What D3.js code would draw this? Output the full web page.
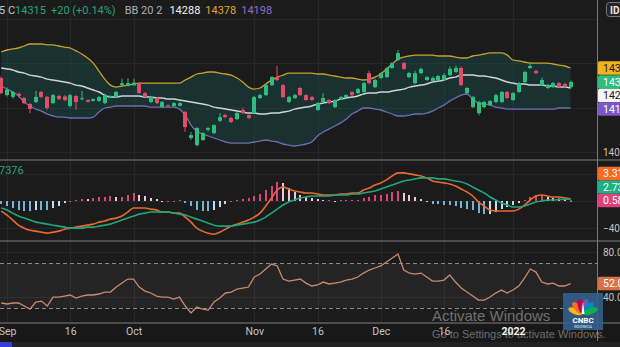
<!DOCTYPE html>
<html><head><meta charset="utf-8">
<script src="https://cdnjs.cloudflare.com/ajax/libs/d3/7.8.5/d3.min.js"></script>
<style>
html,body{margin:0;padding:0;background:#1b1b1b;overflow:hidden}
svg{display:block;font-family:Roboto,"Liberation Sans",Arial,sans-serif}
</style></head><body>
<svg id="chart" width="620" height="347"></svg>
<script>
// USD/IDR daily candles, late Aug 2021 to mid Jan 2022
const open  = [14333,14256,14248,14262,14243,14216,14225,14270,14248,14220,14252,14250,14207,14252,14240,14234,14230,14230,14220,14248,14248,14302,14298,14300,14310,14265,14225,14243,14202,14210,14207,14208,14180,14063,14031,14054,14100,14085,14140,14166,14153,14148,14189,14166,14175,14243,14256,14301,14337,14301,14225,14243,14288,14256,14247,14189,14225,14234,14202,14238,14247,14270,14265,14270,14355,14292,14333,14337,14378,14414,14400,14337,14310,14355,14324,14320,14324,14324,14346,14360,14378,14265,14202,14175,14202,14211,14225,14225,14270,14234,14270,14315,14378,14365,14301,14288,14292,14310,14306,14292];
const high  = [14340,14290,14275,14268,14248,14220,14275,14275,14252,14262,14258,14256,14262,14256,14275,14238,14242,14252,14262,14256,14275,14330,14332,14330,14315,14270,14252,14248,14230,14214,14225,14226,14185,14090,14112,14090,14112,14125,14175,14172,14158,14180,14200,14170,14252,14262,14306,14342,14388,14306,14252,14262,14292,14260,14252,14225,14265,14238,14238,14252,14260,14274,14288,14315,14365,14330,14360,14382,14405,14459,14405,14360,14365,14380,14342,14340,14347,14355,14385,14390,14385,14292,14252,14230,14230,14234,14262,14275,14275,14270,14315,14365,14405,14369,14335,14306,14315,14315,14312,14322];
const low   = [14260,14250,14240,14245,14215,14175,14220,14243,14190,14215,14234,14228,14200,14190,14232,14222,14226,14226,14215,14244,14243,14298,14295,14298,14262,14245,14220,14215,14198,14202,14202,14204,14090,14055,14025,14050,14092,14080,14135,14152,14130,14144,14170,14148,14170,14238,14252,14297,14318,14243,14220,14238,14252,14230,14230,14185,14220,14216,14198,14234,14243,14252,14261,14266,14305,14288,14328,14333,14374,14410,14370,14333,14305,14350,14320,14316,14320,14320,14342,14356,14297,14261,14198,14165,14198,14207,14220,14220,14238,14230,14265,14310,14374,14350,14297,14284,14288,14288,14288,14286];
const close = [14265,14280,14270,14252,14220,14194,14248,14248,14198,14256,14238,14234,14256,14225,14242,14226,14238,14247,14256,14250,14270,14310,14310,14312,14265,14248,14248,14220,14225,14207,14220,14220,14112,14076,14108,14085,14108,14121,14157,14157,14135,14175,14175,14153,14247,14256,14301,14337,14324,14247,14248,14256,14256,14234,14234,14220,14243,14220,14234,14247,14256,14256,14283,14310,14310,14324,14355,14378,14400,14445,14374,14355,14355,14374,14337,14333,14342,14346,14374,14378,14301,14288,14247,14225,14225,14229,14256,14270,14243,14265,14310,14360,14387,14355,14324,14301,14310,14292,14295,14315];

// Bollinger Bands (20, 2)
const bbUpper  = [14450,14459,14464,14468,14477,14486,14486,14486,14482,14482,14477,14472,14468,14455,14441,14423,14400,14364,14328,14301,14292,14297,14301,14306,14310,14310,14310,14310,14310,14310,14310,14310,14324,14337,14351,14355,14360,14360,14355,14351,14346,14333,14315,14292,14283,14288,14306,14324,14337,14346,14355,14355,14355,14355,14355,14351,14351,14346,14342,14337,14333,14333,14328,14324,14328,14337,14351,14373,14396,14418,14427,14432,14436,14436,14436,14436,14432,14432,14432,14427,14423,14423,14432,14436,14441,14446,14446,14446,14436,14414,14410,14405,14400,14400,14400,14400,14396,14391,14387,14378];
const bbMiddle = [14378,14374,14369,14360,14355,14346,14342,14337,14328,14324,14319,14315,14310,14301,14297,14288,14279,14270,14256,14247,14247,14252,14252,14252,14252,14247,14247,14243,14243,14238,14238,14234,14229,14225,14220,14216,14211,14202,14198,14193,14189,14184,14180,14175,14175,14171,14171,14175,14175,14180,14184,14193,14198,14202,14207,14216,14220,14225,14229,14238,14243,14247,14252,14261,14265,14265,14270,14270,14274,14279,14283,14292,14297,14301,14306,14315,14319,14324,14333,14337,14346,14346,14346,14342,14342,14337,14333,14324,14315,14310,14306,14306,14301,14301,14301,14297,14297,14292,14292,14288];
const bbLower  = [14297,14283,14270,14252,14225,14207,14193,14184,14171,14162,14157,14157,14153,14153,14153,14153,14157,14180,14198,14202,14207,14207,14207,14207,14207,14207,14202,14202,14202,14202,14202,14193,14166,14121,14094,14081,14072,14063,14054,14045,14040,14040,14040,14040,14045,14049,14054,14049,14045,14036,14031,14027,14031,14036,14045,14072,14090,14103,14117,14130,14148,14171,14184,14198,14198,14193,14189,14180,14171,14162,14162,14166,14171,14171,14175,14184,14198,14211,14229,14243,14256,14261,14238,14220,14216,14211,14202,14198,14193,14193,14193,14193,14193,14193,14193,14193,14193,14198,14198,14198];

// MACD (12, 26, 9)
const macdLine   = [-14.8,-20.7,-28.1,-35.6,-40.0,-43.0,-44.4,-45.9,-47.4,-45.9,-44.4,-41.5,-40.0,-38.5,-37.0,-35.6,-34.1,-31.1,-29.6,-26.7,-25.2,-22.2,-16.3,-10.4,-10.4,-10.4,-11.9,-13.3,-16.3,-16.3,-17.8,-17.8,-23.7,-31.1,-40.0,-44.4,-47.4,-48.9,-45.9,-41.5,-37.0,-34.1,-31.1,-28.1,-23.7,-17.8,-7.4,4.4,16.3,20.7,17.8,14.8,13.3,11.9,11.9,10.4,8.9,8.9,8.9,10.4,10.4,11.9,11.9,16.3,19.3,23.7,26.7,31.1,37.0,41.5,41.5,40.0,38.5,37.0,34.1,29.6,28.1,26.7,25.2,22.2,17.8,13.3,7.4,-1.5,-7.4,-13.3,-14.8,-14.8,-14.8,-14.8,-11.9,-5.9,1.5,7.4,8.9,7.4,5.9,5.9,4.4,3.31];
const signalLine = [-10.4,-13.3,-17.8,-22.2,-25.2,-28.1,-31.1,-32.6,-34.1,-35.6,-37.0,-38.5,-40.0,-40.0,-40.0,-38.5,-38.5,-37.0,-35.6,-34.1,-31.1,-28.1,-25.2,-22.2,-19.3,-17.8,-16.3,-16.3,-16.3,-16.3,-17.8,-19.3,-20.7,-23.7,-26.7,-29.6,-32.6,-35.6,-37.0,-37.0,-37.0,-35.6,-34.1,-32.6,-31.1,-28.1,-23.7,-17.8,-11.9,-5.9,-1.5,1.5,4.4,5.9,7.4,7.4,7.4,7.4,8.9,8.9,8.9,10.4,10.4,11.9,13.3,14.8,17.8,20.7,23.7,26.7,29.6,31.1,32.6,34.1,34.1,34.1,32.6,32.6,31.1,29.6,28.1,25.2,20.7,16.3,11.9,5.9,1.5,-3.0,-5.9,-8.9,-8.9,-7.4,-4.4,-1.5,0.0,1.5,1.5,2.2,2.5,2.73];

// RSI (14)
const rsi = [34.7,33.8,34.7,34.7,32.0,29.3,35.6,36.4,32.0,40.0,40.0,40.9,41.8,39.1,40.9,41.8,41.8,42.7,44.4,44.4,48.9,52.4,56.0,56.0,48.9,45.3,43.6,40.9,40.0,40.0,38.2,40.0,32.0,25.8,31.1,29.3,28.4,35.6,39.1,43.6,44.4,47.1,48.0,48.9,57.8,60.4,64.9,69.3,67.6,56.0,54.2,55.1,56.0,52.4,49.8,50.7,53.3,51.6,52.4,53.3,55.1,56.0,57.8,61.3,64.0,65.8,67.6,71.1,74.7,78.2,64.0,61.3,60.4,61.3,57.8,54.2,54.2,55.1,59.6,53.3,48.0,44.4,40.9,37.3,37.3,40.0,43.6,46.2,43.6,46.2,49.8,56.9,64.9,62.2,53.3,51.6,52.4,49.8,49.8,52.0];

// time axis: bar index of each labelled date
const tickIndex  = [1, 12, 23, 44, 55, 66, 77, 89];
const tickLabels = ["Sep", "16", "Oct", "Nov", "16", "Dec", "16", "2022"];
// price-scale grid levels and the levels that carry a visible label
const priceGrid  = [14000, 14200, 14400, 14600];
const priceLabel = [14000];
const macdGrid   = [-40, 0, 40];
const macdLabel  = [-40];
const rsiGrid    = [80, 40];
const rsiLabel   = [80, 40];
const rsiBands   = [70, 30];

const UP = "#2ebd7f", DOWN = "#e04d68";
const C_UPPER = "#c9a227", C_MID = "#cdd4da", C_LOWER = "#6d6db3";
const C_MACD = "#ea6a2e", C_SIGNAL = "#1fa67a", C_RSI = "#c98a72";
const GRID = "#272727", SEP = "#5e5e5e", AXIS_TXT = "#c4c4c4";

const svg = d3.select("#chart");
const W = 620, H = 347, plotR = 597;
const idx = d3.range(close.length);

const x = d3.scaleLinear().domain([0, 99]).range([1.25, 570.5]);
const yMain = d3.scaleLinear().domain([13973, 14684]).range([158, 0]);
const yMacd = d3.scaleLinear().domain([-56, 59]).range([239, 161]);
const yRsi  = d3.scaleLinear().domain([18.7, 89.8]).range([321, 241]);

svg.append("rect").attr("width", W).attr("height", H).attr("fill", "#1b1b1b");
svg.append("rect").attr("x", 0).attr("y", 323).attr("width", W).attr("height", 24).attr("fill", "#181818");

const defs = svg.append("defs");
function clip(id, y0, y1) {
  defs.append("clipPath").attr("id", id).append("rect")
    .attr("x", 0).attr("y", y0).attr("width", plotR).attr("height", y1 - y0);
  return svg.append("g").attr("clip-path", `url(#${id})`);
}

// vertical grid at labelled dates
svg.append("g").selectAll("line").data(tickIndex).join("line")
  .attr("x1", d => Math.round(x(d)) + 0.5).attr("x2", d => Math.round(x(d)) + 0.5)
  .attr("y1", 0).attr("y2", 323).attr("stroke", GRID);

function hGrid(scale, ticks) {
  svg.append("g").selectAll("line").data(ticks).join("line")
    .attr("x1", 0).attr("x2", plotR)
    .attr("y1", d => Math.round(scale(d)) + 0.5).attr("y2", d => Math.round(scale(d)) + 0.5)
    .attr("stroke", GRID);
}
hGrid(yMain, priceGrid);
hGrid(yMacd, macdGrid);
hGrid(yRsi, rsiGrid);

/* ---------- price pane ---------- */
const gMain = clip("clipMain", 0, 159);
gMain.append("path").datum(idx)
  .attr("d", d3.area().x(i => x(i)).y0(i => yMain(bbLower[i])).y1(i => yMain(bbUpper[i])).curve(d3.curveMonotoneX))
  .attr("fill", "rgba(24,112,112,0.26)");
[[bbUpper, C_UPPER, 1.3], [bbMiddle, C_MID, 1.5], [bbLower, C_LOWER, 1.3]].forEach(([s, c, w]) => {
  gMain.append("path").datum(idx)
    .attr("d", d3.line().x(i => x(i)).y(i => yMain(s[i])).curve(d3.curveMonotoneX))
    .attr("fill", "none").attr("stroke", c).attr("stroke-width", w);
});
const candleColor = i => close[i] >= open[i] ? UP : DOWN;
gMain.selectAll("line.wick").data(idx).join("line").attr("class", "wick")
  .attr("x1", i => Math.round(x(i))).attr("x2", i => Math.round(x(i)))
  .attr("y1", i => yMain(high[i])).attr("y2", i => yMain(low[i]))
  .attr("stroke", candleColor).attr("stroke-width", 1);
gMain.selectAll("rect.body").data(idx).join("rect").attr("class", "body")
  .attr("x", i => Math.round(x(i)) - 2).attr("width", 4)
  .attr("y", i => yMain(Math.max(open[i], close[i])))
  .attr("height", i => Math.max(1, Math.abs(yMain(open[i]) - yMain(close[i]))))
  .attr("fill", candleColor);

/* ---------- MACD pane ---------- */
const gMacd = clip("clipMacd", 161, 240);
const hist = idx.map(i => macdLine[i] - signalLine[i]);
const histColor = i => {
  const h = hist[i], p = i > 0 ? hist[i - 1] : h;
  if (h >= 0) return h >= p ? "#d8457c" : "#efc9d8";
  return h <= p ? "#74b4d6" : "#bfe1ef";
};
gMacd.selectAll("rect.hist").data(idx).join("rect").attr("class", "hist")
  .attr("x", i => Math.round(x(i)) - 1).attr("width", 2)
  .attr("y", i => Math.min(yMacd(0), yMacd(hist[i])))
  .attr("height", i => Math.max(1, Math.abs(yMacd(hist[i]) - yMacd(0))))
  .attr("fill", histColor);
[[macdLine, C_MACD], [signalLine, C_SIGNAL]].forEach(([s, c]) => {
  gMacd.append("path").datum(idx)
    .attr("d", d3.line().x(i => x(i)).y(i => yMacd(s[i])).curve(d3.curveMonotoneX))
    .attr("fill", "none").attr("stroke", c).attr("stroke-width", 1.6);
});

/* ---------- RSI pane ---------- */
const gRsi = clip("clipRsi", 242, 322);
gRsi.append("rect").attr("x", 0).attr("width", plotR)
  .attr("y", yRsi(rsiBands[0])).attr("height", yRsi(rsiBands[1]) - yRsi(rsiBands[0]))
  .attr("fill", "rgba(255,255,255,0.045)");
gRsi.selectAll("line.band").data(rsiBands).join("line").attr("class", "band")
  .attr("x1", 0).attr("x2", plotR)
  .attr("y1", d => Math.round(yRsi(d)) + 0.5).attr("y2", d => Math.round(yRsi(d)) + 0.5)
  .attr("stroke", "#8a8a8a").attr("stroke-dasharray", "4,3");
gRsi.append("path").datum(idx)
  .attr("d", d3.line().x(i => x(i)).y(i => yRsi(rsi[i])))
  .attr("fill", "none").attr("stroke", C_RSI).attr("stroke-width", 1.3);

/* ---------- separators ---------- */
svg.append("g").selectAll("line").data([160, 241, 323]).join("line")
  .attr("x1", 0).attr("x2", W).attr("y1", d => d).attr("y2", d => d)
  .attr("stroke", SEP).attr("stroke-width", 1.6);
svg.append("line").attr("x1", plotR + 0.5).attr("x2", plotR + 0.5).attr("y1", 0).attr("y2", 341)
  .attr("stroke", "#7a7a7a");

/* ---------- right axes ---------- */
function rightAxis(scale, ticks, fmt) {
  const g = svg.append("g").attr("transform", `translate(${plotR},0)`)
    .call(d3.axisRight(scale).tickValues(ticks).tickFormat(fmt).tickSize(0).tickPadding(6));
  g.select(".domain").remove();
  g.selectAll("text").attr("fill", AXIS_TXT).style("font-size", "10px")
    .style("font-family", "Roboto, 'Liberation Sans', sans-serif");
}
rightAxis(yMain, priceLabel, d3.format("d"));
rightAxis(yMacd, macdLabel, d3.format(".2f"));
rightAxis(yRsi, rsiLabel, d3.format(".2f"));

// value tags on the price scale
const last = close.length - 1;
function tags(list, scale, dir) {
  const hgt = 13.5;
  list.forEach(t => t.y = scale(t.v));
  if (dir > 0) {
    list.sort((a, b) => a.y - b.y);
    for (let k = 1; k < list.length; k++) list[k].y = Math.max(list[k].y, list[k - 1].y + hgt);
  } else {
    list.sort((a, b) => b.y - a.y);
    for (let k = 1; k < list.length; k++) list[k].y = Math.min(list[k].y, list[k - 1].y - hgt);
  }
  const g = svg.append("g");
  g.selectAll("rect").data(list).join("rect")
    .attr("x", plotR + 1).attr("y", d => d.y - hgt / 2).attr("width", 30).attr("height", hgt)
    .attr("rx", 1.5).attr("fill", d => d.bg);
  g.selectAll("text").data(list).join("text")
    .attr("x", plotR + 6).attr("y", d => d.y).attr("dy", "0.35em")
    .attr("fill", d => d.fg).style("font-size", "10.5px").text(d => d.txt);
}
tags([
  { v: bbUpper[last], txt: d3.format("d")(bbUpper[last]), bg: "#f0b41e", fg: "#1b1b1b" },
  { v: close[last], txt: d3.format("d")(close[last]), bg: "#2ebd7f", fg: "#ffffff" },
  { v: bbMiddle[last], txt: d3.format("d")(bbMiddle[last]), bg: "#f4f4f4", fg: "#1b1b1b" },
  { v: bbLower[last], txt: d3.format("d")(bbLower[last]), bg: "#7c58c6", fg: "#ffffff" }
], yMain, 1);
tags([
  { v: macdLine[last], txt: d3.format(".2f")(macdLine[last]), bg: "#f46b21", fg: "#ffffff" },
  { v: signalLine[last], txt: d3.format(".2f")(signalLine[last]), bg: "#1fae86", fg: "#ffffff" },
  { v: hist[last], txt: d3.format(".2f")(hist[last]), bg: "#e2407a", fg: "#ffffff" }
], yMacd, -1);
tags([
  { v: rsi[last], txt: d3.format(".2f")(rsi[last]), bg: "#d8714a", fg: "#ffffff" }
], yRsi, 1);

// currency badge
svg.append("rect").attr("x", 606.5).attr("y", 2.5).attr("width", 22).attr("height", 14).attr("rx", 3)
  .attr("fill", "#262626").attr("stroke", "#7a7a7a");
svg.append("text").attr("x", 610).attr("y", 13.5).attr("fill", "#e6e6e6")
  .style("font-size", "10px").style("font-weight", "bold").text("IDR");

/* ---------- time axis ---------- */
const gx = svg.append("g").attr("transform", "translate(0,326)")
  .call(d3.axisBottom(x).tickValues(tickIndex).tickFormat((d, k) => tickLabels[k]).tickSize(0).tickPadding(2));
gx.select(".domain").remove();
gx.selectAll("text").attr("fill", AXIS_TXT).style("font-size", "10.5px")
  .style("font-family", "Roboto, 'Liberation Sans', sans-serif")
  .style("font-weight", (d, k) => tickLabels[k] === "2022" ? "bold" : "normal")
  .attr("fill", (d, k) => tickLabels[k] === "2022" ? "#f0f0f0" : AXIS_TXT);

/* ---------- legends ---------- */
const chg = close[last] - close[last - 1];
const hdr = svg.append("text").attr("x", -1).attr("y", 14).style("font-size", "11px");
hdr.append("tspan").attr("fill", "#c8c8c8").text("5 C");
hdr.append("tspan").attr("fill", "#26a67a").text(d3.format("d")(close[last]));
hdr.append("tspan").attr("fill", "#26a67a").attr("dx", 5)
  .text(`${d3.format("+d")(chg)} (${d3.format("+.2%")(chg / close[last - 1])})`);
hdr.append("tspan").attr("fill", "#b0b0b0").attr("dx", 9).text("BB 20 2");
hdr.append("tspan").attr("fill", "#f2f2f2").attr("dx", 7).text(d3.format("d")(bbMiddle[last]));
hdr.append("tspan").attr("fill", "#e0a432").attr("dx", 5).text(d3.format("d")(bbUpper[last]));
hdr.append("tspan").attr("fill", "#8f6fd0").attr("dx", 5).text(d3.format("d")(bbLower[last]));

svg.append("text").attr("x", -1).attr("y", 174).attr("fill", "#26a67a")
  .style("font-size", "11px").text("7376");

/* ---------- OS watermark and logo ---------- */
svg.append("text").attr("x", 432).attr("y", 321).attr("fill", "rgba(255,255,255,0.38)")
  .style("font-family", "'Liberation Sans', Arial, sans-serif").style("font-size", "15px")
  .text("Activate Windows");
svg.append("text").attr("x", 432).attr("y", 338).attr("fill", "rgba(255,255,255,0.38)")
  .style("font-family", "'Liberation Sans', Arial, sans-serif").style("font-size", "11px")
  .text("Go to Settings to activate Windows.");

const logo = svg.append("g").attr("transform", "translate(563,293)");
logo.append("rect").attr("width", 40).attr("height", 37).attr("fill", "#33608e").attr("opacity", 0.9);
const petals = ["#fcb711", "#f37021", "#cc004c", "#6460aa", "#0089d0", "#0db14b"];
logo.selectAll("ellipse").data(petals).join("ellipse")
  .attr("cx", 0).attr("cy", -8).attr("rx", 3.2).attr("ry", 7.5)
  .attr("fill", d => d)
  .attr("transform", (d, k) => `translate(20,21) rotate(${-70 + k * 28})`);
logo.append("path").attr("d", "M18.5,21 L20,9 L21.5,21 Z").attr("fill", "#fff");
logo.append("text").attr("x", 20).attr("y", 30).attr("text-anchor", "middle").attr("fill", "#fff")
  .style("font-size", "8px").style("font-weight", "bold").text("CNBC");
logo.append("text").attr("x", 20).attr("y", 34.5).attr("text-anchor", "middle").attr("fill", "#dfe8f2")
  .style("font-size", "3.5px").text("INDONESIA");

// bottom bar
svg.append("rect").attr("x", 0).attr("y", 342).attr("width", W).attr("height", 5).attr("fill", "#222");
svg.append("rect").attr("x", 0).attr("y", 342).attr("width", 12).attr("height", 5).attr("fill", "#3340d8");
</script>
</body></html>
